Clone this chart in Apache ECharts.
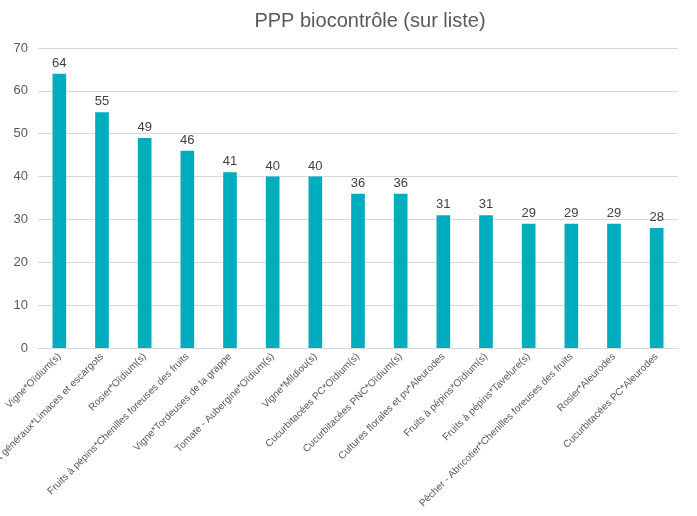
<!DOCTYPE html>
<html><head><meta charset="utf-8">
<script src="https://cdn.jsdelivr.net/npm/echarts@6/dist/echarts.min.js"></script>
<style>html,body{margin:0;padding:0;background:#fff}#c{width:697px;height:516px}</style>
</head><body><div id="c"></div>
<script>
const title = "PPP biocontrôle (sur liste)";
const categories = [
  "Vigne*Oïdium(s)",
  "Trt généraux*Limaces et escargots",
  "Rosier*Oïdium(s)",
  "Fruits à pépins*Chenilles foreuses des fruits",
  "Vigne*Tordeuses de la grappe",
  "Tomate - Aubergine*Oïdium(s)",
  "Vigne*Mildiou(s)",
  "Cucurbitacées PC*Oïdium(s)",
  "Cucurbitacées PNC*Oïdium(s)",
  "Cultures florales et pv*Aleurodes",
  "Fruits à pépins*Oïdium(s)",
  "Fruits à pépins*Tavelure(s)",
  "Pêcher - Abricotier*Chenilles foreuses des fruits",
  "Rosier*Aleurodes",
  "Cucurbitacées PC*Aleurodes"
];
const values = [64, 55, 49, 46, 41, 40, 40, 36, 36, 31, 31, 29, 29, 29, 28];
const yTicks = {min: 0, max: 70, interval: 10};

const chart = echarts.init(document.getElementById('c'));
const font = 'Liberation Sans, Arial, sans-serif';
chart.setOption({
  animation: false,
  title: {text: title, left: 365, top: 6, textAlign: 'center',
    textStyle: {fontFamily: font, fontSize: 20, fontWeight: 'normal', color: '#595959'}},
  grid: {left: 38, right: 19, top: 48, bottom: 168, containLabel: false, outerBoundsMode: 'none'},
  xAxis: {type: 'category', data: categories,
    axisLine: {lineStyle: {color: '#d9d9d9', width: 1}},
    axisTick: {show: false},
    axisLabel: {rotate: 45, interval: 0, fontFamily: font, fontSize: 10, color: '#595959', margin: 7}},
  yAxis: {type: 'value', min: yTicks.min, max: yTicks.max, interval: yTicks.interval,
    axisLine: {show: false}, axisTick: {show: false},
    splitLine: {lineStyle: {color: '#d9d9d9', width: 1}},
    axisLabel: {fontFamily: font, fontSize: 13, color: '#595959', margin: 10}},
  series: [{type: 'bar', data: values, barWidth: '32%',
    itemStyle: {color: '#00adbf'},
    label: {show: true, position: 'top', distance: 4, fontFamily: font, fontSize: 13, color: '#404040'}}]
});
</script></body></html>
